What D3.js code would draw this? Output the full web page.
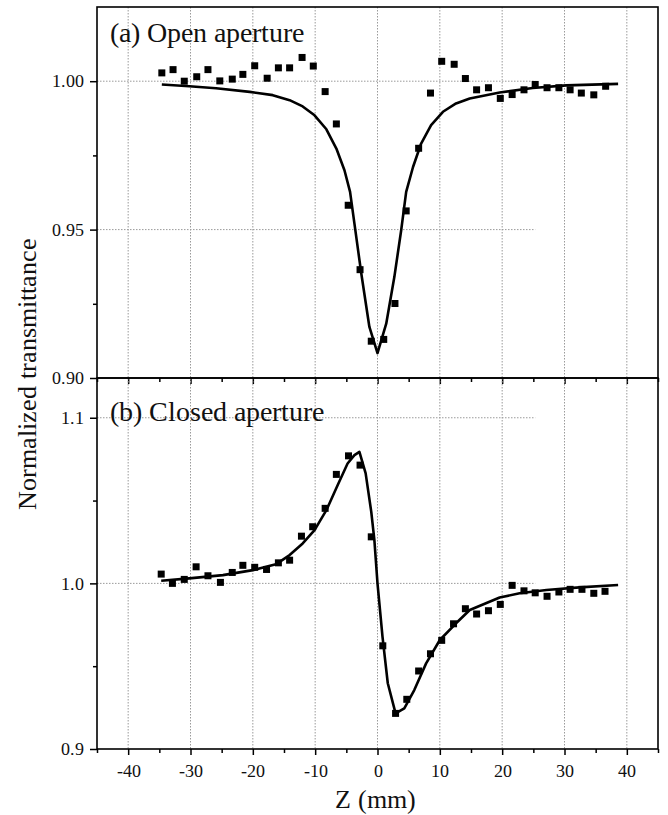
<!DOCTYPE html>
<html>
<head>
<meta charset="utf-8">
<script src="https://cdn.jsdelivr.net/npm/d3@7"></script>
<style>
@font-face{font-family:'SerifX';src:local('Liberation Serif'),local('LiberationSerif'),local('LiberationSerif-Regular'),local('Times New Roman'),local('DejaVu Serif'),local('DejaVuSerif'),local('Noto Serif'),local('NotoSerif-Regular');}
html,body{margin:0;padding:0;background:#fff;}
svg{display:block;}
svg text{font-family:'SerifX','Liberation Serif','DejaVu Serif','Noto Serif','Times New Roman',Times,serif !important;fill:#111;}
</style>
</head>
<body>
<svg id="chart" width="668" height="815"></svg>
<script>
// ---- Data ----
const openZ = [-34.6,-32.8,-31.0,-29.0,-27.2,-25.3,-23.3,-21.6,-19.7,-17.7,-15.9,-14.1,-12.1,-10.3,-8.4,-6.6,-4.7,-2.8,-1.0,1.0,2.8,4.6,6.6,8.5,10.3,12.3,14.1,15.9,17.8,19.7,21.6,23.5,25.3,27.2,29.1,30.9,32.7,34.7,36.6];
const openT = [1.0028,1.0039,1.0000,1.0015,1.0039,1.0001,1.0007,1.0023,1.0052,1.0010,1.0045,1.0045,1.0080,1.0051,0.9965,0.9856,0.9582,0.9365,0.9124,0.9130,0.9251,0.9563,0.9774,0.9960,1.0067,1.0057,1.0009,0.9971,0.9978,0.9942,0.9955,0.9971,0.9989,0.9978,0.9978,0.9971,0.9960,0.9954,0.9983];
const openFitZ = [-34.6,-30.2,-25.9,-20.5,-16.8,-14.1,-12.0,-10.1,-8.2,-6.6,-5.3,-4.4,-3.7,-2.6,-1.3,0.0,1.4,2.7,3.8,4.6,5.7,7.0,8.6,10.5,12.6,14.8,19.6,24.9,30.3,38.6];
const openFitT = [0.9989,0.9983,0.9976,0.9964,0.9953,0.9936,0.9915,0.9885,0.9838,0.9773,0.9700,0.9627,0.9520,0.9352,0.9172,0.9084,0.9183,0.9340,0.9498,0.9627,0.9711,0.9790,0.9852,0.9897,0.9925,0.9942,0.9962,0.9977,0.9986,0.9991];

const closedZ = [-34.7,-32.9,-31.0,-29.1,-27.2,-25.2,-23.3,-21.6,-19.7,-17.8,-15.9,-14.1,-12.2,-10.4,-8.4,-6.6,-4.65,-2.8,-1.0,0.85,2.9,4.7,6.6,8.5,10.3,12.2,14.1,15.9,17.8,19.7,21.6,23.5,25.3,27.2,29.1,30.9,32.8,34.7,36.5];
const closedT = [1.0056,1.0000,1.0024,1.0100,1.0046,1.0006,1.0066,1.0109,1.0097,1.0084,1.0124,1.0140,1.0285,1.0342,1.0453,1.0658,1.0770,1.0714,1.0281,0.9623,0.9215,0.9300,0.9471,0.9575,0.9656,0.9756,0.9847,0.9815,0.9835,0.9873,0.9988,0.9955,0.9943,0.9922,0.9948,0.9964,0.9964,0.9940,0.9952];
const closedFitZ = [-34.7,-30.2,-24.8,-20.0,-16.3,-14.1,-12.0,-10.1,-8.2,-6.4,-4.8,-3.7,-2.9,-1.9,-1.0,-0.5,0.0,0.8,1.65,2.9,4.3,5.9,7.8,10.0,12.6,14.8,19.6,22.8,27.1,32.4,38.6];
const closedFitT = [1.0016,1.0030,1.0050,1.0080,1.0115,1.0171,1.0241,1.0322,1.0442,1.0593,1.0724,1.0774,1.0794,1.0664,1.0432,1.0261,1.0000,0.9678,0.9397,0.9215,0.9246,0.9356,0.9517,0.9658,0.9759,0.9839,0.9915,0.9940,0.9960,0.9976,0.9990];

const xMajor = [-40,-30,-20,-10,0,10,20,30,40];
const xMinor = [-45,-35,-25,-15,-5,5,15,25,35,45];
const topMajor = [0.90,0.95,1.00];
const topMinor = [0.925,0.975];
const topGrid = [0.95,1.00];
const botMajor = [0.9,1.0,1.1];
const botMinor = [0.95,1.05];
const botGrid = [1.0,1.1];

// ---- Layout ----
const svg = d3.select("#chart");
const L = 97, R = 658, T0 = 7, MID = 378, B = 749;
const x = d3.scaleLinear().domain([-45,45]).range([L,R]);
const yTop = d3.scaleLinear().domain([0.90,1.025]).range([MID,T0]);
const yBot = d3.scaleLinear().domain([0.9,1.124]).range([B,MID]);
const gridEnd = 25.3;
const SERIF = "'SerifX','Liberation Serif','DejaVu Serif','Noto Serif','Times New Roman',Times,serif";

function panel(y, yTop_, yBottom_, grid, major, minor, fmt, fitZ, fitT, ptsZ, ptsT, label, labelY){
  const g = svg.append("g");
  g.selectAll("line.vg").data(xMajor).join("line")
    .attr("x1", d=>x(d)).attr("x2", d=>x(d))
    .attr("y1", yTop_).attr("y2", yBottom_)
    .attr("stroke","#9a9a9a").attr("stroke-width",1).attr("stroke-dasharray","1.5,1.5");
  g.selectAll("line.hg").data(grid).join("line")
    .attr("x1", L).attr("x2", x(gridEnd))
    .attr("y1", d=>y(d)).attr("y2", d=>y(d))
    .attr("stroke","#9a9a9a").attr("stroke-width",1).attr("stroke-dasharray","1.5,1.5");
  g.append("text").attr("x",110).attr("y",labelY).attr("font-size",28)
    .attr("font-family",SERIF).text(label);
  const line = d3.line().x((d,i)=>x(fitZ[i])).y((d,i)=>y(fitT[i])).curve(d3.curveLinear);
  g.append("path").datum(fitZ).attr("d",line).attr("fill","none")
    .attr("stroke","#000").attr("stroke-width",2.6).attr("stroke-linejoin","round");
  const s = 7;
  g.selectAll("rect.pt").data(ptsZ).join("rect")
    .attr("x",(d,i)=>x(ptsZ[i])-s/2).attr("y",(d,i)=>y(ptsT[i])-s/2)
    .attr("width",s).attr("height",s).attr("fill","#000");
  const ay = g.append("g").attr("transform",`translate(${L},0)`)
    .call(d3.axisLeft(y).tickValues(major).tickFormat(fmt).tickSize(7).tickPadding(6));
  ay.attr("font-family",SERIF);
  ay.select(".domain").remove();
  ay.selectAll("line").attr("stroke","#000").attr("stroke-width",1.5);
  ay.selectAll("text").attr("font-size",18);
  const ay2 = g.append("g").attr("transform",`translate(${L},0)`)
    .call(d3.axisLeft(y).tickValues(minor).tickFormat("").tickSize(4));
  ay2.select(".domain").remove();
  ay2.selectAll("line").attr("stroke","#000").attr("stroke-width",1.5);
  const ax = g.append("g").attr("transform",`translate(0,${yBottom_})`)
    .call(d3.axisBottom(x).tickValues(xMajor).tickFormat(d3.format("d")).tickSize(6).tickPadding(9));
  ax.attr("font-family",SERIF);
  ax.select(".domain").remove();
  ax.selectAll("line").attr("stroke","#000").attr("stroke-width",1.5);
  ax.selectAll("text").attr("font-size",18);
  const ax2 = g.append("g").attr("transform",`translate(0,${yBottom_})`)
    .call(d3.axisBottom(x).tickValues(xMinor).tickFormat("").tickSize(4));
  ax2.select(".domain").remove();
  ax2.selectAll("line").attr("stroke","#000").attr("stroke-width",1.5);
  return {ax};
}

const p1 = panel(yTop, T0, MID, topGrid, topMajor, topMinor, d3.format(".2f"),
  openFitZ, openFitT, openZ, openT, "(a) Open aperture", 42);
p1.ax.selectAll("text").remove();
const p2 = panel(yBot, MID, B, botGrid, botMajor, botMinor, d3.format(".1f"),
  closedFitZ, closedFitT, closedZ, closedT, "(b) Closed aperture", 421);
p2.ax.selectAll("text").text(d=>d<0 ? "-"+Math.abs(d) : d);

svg.append("rect").attr("x",L).attr("y",T0).attr("width",R-L).attr("height",MID-T0)
  .attr("fill","none").attr("stroke","#000").attr("stroke-width",1.6);
svg.append("rect").attr("x",L).attr("y",MID).attr("width",R-L).attr("height",B-MID)
  .attr("fill","none").attr("stroke","#000").attr("stroke-width",1.6);

svg.append("text").attr("x",375).attr("y",808).attr("text-anchor","middle")
  .attr("font-family",SERIF).attr("font-size",26).text("Z (mm)");
svg.append("text").attr("transform","translate(36,374) rotate(-90)").attr("text-anchor","middle")
  .attr("font-family",SERIF).attr("font-size",26).text("Normalized transmittance");
</script>
</body>
</html>
